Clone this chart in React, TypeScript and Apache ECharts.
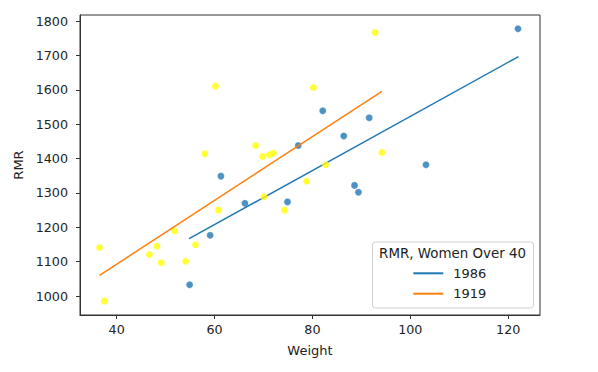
import React, { useEffect, useRef } from "react";
import * as echarts from "echarts";

// 1986 data (blue)
const x1986 = [54.9, 59.1, 61.3, 66.2, 74.9, 77.1, 82.1, 86.4, 88.6, 89.4, 91.6, 103.2, 122.0];
const y1986 = [1033, 1177, 1349, 1270, 1274, 1438, 1539, 1466, 1322, 1302, 1519, 1382, 1778];
// 1919 data (yellow)
const x1919 = [36.5, 37.5, 46.7, 48.2, 49.1, 51.8, 54.1, 56.1, 58.0, 60.2, 60.8, 68.4, 69.8, 70.1, 71.2, 72.0, 74.3, 78.8, 80.2, 82.7, 92.8, 94.2];
const y1919 = [1141, 985, 1121, 1145, 1097, 1189, 1101, 1149, 1414, 1611, 1250, 1438, 1406, 1289, 1411, 1416, 1250, 1334, 1607, 1382, 1767, 1418];
// fitted lines (endpoints)
const fit1986X = [54.8, 122.1];
const fit1986Y = [1167, 1697];
const fit1919X = [36.5, 94.2];
const fit1919Y = [1060, 1596];
// tick labels
const xTicks = [40, 60, 80, 100, 120];
const yTicks = [1000, 1100, 1200, 1300, 1400, 1500, 1600, 1700, 1800];

const FONT = "DejaVu Sans";
const FS = 13;

export default function App() {
  const ref = useRef<HTMLDivElement>(null);
  useEffect(() => {
    if (!ref.current) return;
    const chart = echarts.init(ref.current, undefined, { renderer: "svg" });
    const pts = (xs: number[], ys: number[]) => xs.map((x, i) => [x, ys[i]]);
    chart.setOption({
      animation: false,
      textStyle: { fontFamily: FONT },
      grid: {
        left: 80,
        top: 15,
        right: 58,
        bottom: 57,
        show: true,
        borderColor: "#333",
        borderWidth: 1,
      },
      xAxis: {
        type: "value",
        min: 32.5,
        max: 126.5,
        name: "Weight",
        nameLocation: "middle",
        nameGap: 29,
        nameTextStyle: { fontFamily: FONT, fontSize: FS, color: "#222" },
        splitLine: { show: false },
        axisLine: { show: true, lineStyle: { color: "#333" } },
        axisTick: { show: true, length: 4, customValues: xTicks, lineStyle: { color: "#333" } },
        axisLabel: {
          customValues: xTicks,
          formatter: (v: number) => String(v),
          fontFamily: FONT,
          fontSize: 12.7,
          color: "#222",
          margin: 8,
        },
      },
      yAxis: {
        type: "value",
        min: 944.7,
        max: 1818,
        name: "RMR",
        nameLocation: "middle",
        nameGap: 48,
        nameTextStyle: { fontFamily: FONT, fontSize: FS, color: "#222" },
        splitLine: { show: false },
        axisLine: { show: true, lineStyle: { color: "#333" } },
        axisTick: { show: true, length: 4, customValues: yTicks, lineStyle: { color: "#333" } },
        axisLabel: {
          customValues: yTicks,
          formatter: (v: number) => String(v),
          fontFamily: FONT,
          fontSize: 12.7,
          color: "#222",
          margin: 12,
        },
      },
      legend: {
        data: ["1986", "1919"],
        orient: "vertical",
        left: 413.3,
        top: 266.3,
        padding: 0,
        z: 20,
        icon: "rect",
        itemWidth: 30,
        itemHeight: 2,
        itemGap: 6.4,
        textStyle: { fontFamily: FONT, fontSize: FS, color: "#222", lineHeight: 14, padding: [0, 0, 0, 5] },
        selectedMode: false,
      },
      graphic: [
        {
          type: "rect",
          z: 10,
          shape: { x: 372.5, y: 242, width: 161, height: 66, r: 3 },
          style: { fill: "rgba(255,255,255,0.8)", stroke: "#d0d0d0", lineWidth: 1 },
        },
        {
          type: "text",
          z: 21,
          x: 452.5,
          y: 253.5,
          style: {
            text: "RMR, Women Over 40",
            fontFamily: FONT,
            fontSize: 13.4,
            fill: "#222",
            align: "center",
            verticalAlign: "middle",
          },
        },
      ],
      series: [
        {
          name: "s1986",
          type: "scatter",
          data: pts(x1986, y1986),
          symbolSize: 7,
          itemStyle: { color: "#1f77b4", borderColor: "#fff", borderWidth: 0.3 },
          z: 2,
        },
        {
          name: "1986",
          type: "line",
          data: pts(fit1986X, fit1986Y),
          showSymbol: false,
          symbol: "none",
          lineStyle: { color: "#1f77b4", width: 1.5 },
          itemStyle: { color: "#1f77b4" },
          z: 3,
        },
        {
          name: "s1919",
          type: "scatter",
          data: pts(x1919, y1919),
          symbolSize: 7,
          itemStyle: { color: "#ffff00", borderColor: "#fff", borderWidth: 0.3 },
          z: 4,
        },
        {
          name: "1919",
          type: "line",
          data: pts(fit1919X, fit1919Y),
          showSymbol: false,
          symbol: "none",
          lineStyle: { color: "#ff7f0e", width: 1.5 },
          itemStyle: { color: "#ff7f0e" },
          z: 5,
        },
      ],
    });
    return () => chart.dispose();
  }, []);
  return (
    <div
      ref={ref}
      style={{ position: "fixed", left: 0, top: 0, width: 598, height: 372, background: "#fff" }}
    />
  );
}
